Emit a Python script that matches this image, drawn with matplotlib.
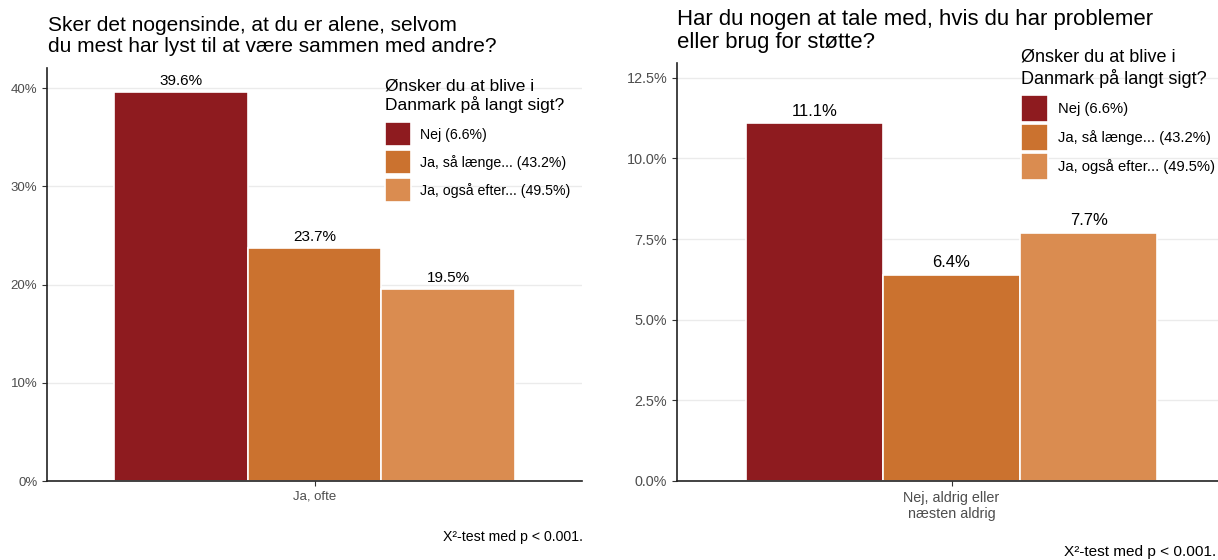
import matplotlib.pyplot as plt
from matplotlib.ticker import FuncFormatter

plt.rcParams['font.family'] = ['Liberation Sans', 'DejaVu Sans']

# data
groups = ["Nej (6.6%)", "Ja, så længe... (43.2%)", "Ja, også efter... (49.5%)"]
colors = ["#8E1B1F", "#CB722F", "#DA8C50"]

left_cat = "Ja, ofte"
left_vals = [39.6, 23.7, 19.5]
left_ticks = [0, 10, 20, 30, 40]

right_cat = "Nej, aldrig eller\nnæsten aldrig"
right_vals = [11.1, 6.4, 7.7]
right_ticks = [0, 2.5, 5.0, 7.5, 10.0, 12.5]

left_title = "Sker det nogensinde, at du er alene, selvom\ndu mest har lyst til at være sammen med andre?"
right_title = "Har du nogen at tale med, hvis du har problemer\neller brug for støtte?"
legend_title = "Ønsker du at blive i\nDanmark på langt sigt?"
caption = "X²-test med p < 0.001."

W, H = 1218, 560
fig = plt.figure(figsize=(W / 100, H / 100), dpi=100)


def px_axes(x0, x1, ytop, ybot):
    return fig.add_axes([x0 / W, 1 - ybot / H, (x1 - x0) / W, (ybot - ytop) / H])


def panel(ax, cat, vals, ticks, ymax, fmt, k):
    # k = scale of this panel's text (right image is a bit larger)
    offs = [-0.3, 0.0, 0.3]
    for g, v, c, o in zip(groups, vals, colors, offs):
        ax.bar(1 + o, v, width=0.3, color=c, edgecolor="white", linewidth=1.2, label=g, zorder=2)
        ax.annotate(f"{v:.1f}%", (1 + o, v), xytext=(0, 3), textcoords="offset points",
                    ha="center", va="bottom", fontsize=11 * k, color="black")
    ax.set_xlim(0.4, 1.6)
    ax.set_ylim(0, ymax)
    ax.set_xticks([1])
    ax.set_xticklabels([cat])
    ax.set_yticks(ticks)
    ax.yaxis.set_major_formatter(FuncFormatter(fmt))
    ax.grid(axis="y", color="#EBEBEB", linewidth=1, zorder=0)
    ax.set_axisbelow(True)
    for s in ["top", "right"]:
        ax.spines[s].set_visible(False)
    for s in ["left", "bottom"]:
        ax.spines[s].set_linewidth(1.2)
        ax.spines[s].set_color("#222222")
    ax.tick_params(colors="#333333", labelcolor="#4D4D4D", labelsize=9.5 * k, length=3.5)


ax1 = px_axes(47, 582, 68, 481)
panel(ax1, left_cat, left_vals, left_ticks, 42.04, lambda v, p: f"{v:.0f}%", 1.0)
ax2 = px_axes(677, 1226, 63, 481)
panel(ax2, right_cat, right_vals, right_ticks, 12.96, lambda v, p: f"{v:.1f}%", 1.09)

# legends inside the plot area
for ax, lx, ly, tfs, lfs, hl, hh, ls, pad, tsep in [
        (ax1, 385, 78.5, 12.5, 10.2, 1.85, 2.2, 0.3, 0.65, 6.5),
        (ax2, 1021, 49, 13.0, 10.6, 1.8, 2.4, 0.17, 0.7, 5.2)]:
    leg = ax.legend(title=legend_title, loc="upper left", bbox_to_anchor=(lx / W, 1 - ly / H),
                    bbox_transform=fig.transFigure, frameon=False, fontsize=lfs,
                    title_fontsize=tfs, alignment="left", borderpad=0, borderaxespad=0,
                    handlelength=hl, handleheight=hh, labelspacing=ls, handletextpad=pad)
    leg._legend_box.sep = tsep  # gap between legend title and keys

fig.text(48 / W, 1 - 16 / H, left_title, fontsize=15, ha="left", va="top", linespacing=1.15)
fig.text(677 / W, 1 - 9 / H, right_title, fontsize=15.9, ha="left", va="top", linespacing=1.1)
fig.text(583 / W, 1 - 537 / H, caption, fontsize=10.2, ha="right", va="center")
fig.text(1216 / W, 1 - 552 / H, caption, fontsize=11.1, ha="right", va="center")

fig.savefig("out.png", dpi=100)
